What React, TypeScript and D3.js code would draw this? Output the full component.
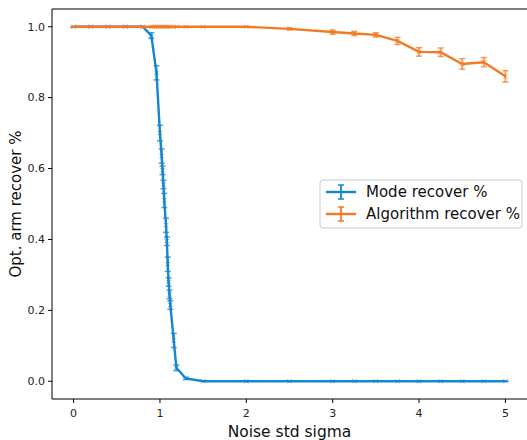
import React from "react";
import * as d3 from "d3";

const W = 527;
const H = 440;

const modeX = [0, 0.2, 0.4, 0.6, 0.8, 0.9, 0.96, 1.0, 1.02, 1.03, 1.04, 1.05, 1.07, 1.08, 1.09, 1.1, 1.11, 1.12, 1.16, 1.19, 1.3, 1.5, 2, 2.5, 3, 3.25, 3.5, 3.75, 4, 4.25, 4.5, 4.75, 5];
const modeY = [1, 1, 1, 1, 1, 0.975, 0.87, 0.7, 0.635, 0.595, 0.555, 0.51, 0.44, 0.395, 0.33, 0.28, 0.245, 0.215, 0.115, 0.038, 0.008, 0, 0, 0, 0, 0, 0, 0, 0, 0, 0, 0, 0];
const modeErr = [0, 0, 0, 0, 0, 0.008, 0.02, 0.022, 0.02, 0.012, 0.012, 0.02, 0.02, 0.012, 0.02, 0.012, 0.012, 0.012, 0.02, 0.008, 0.003, 0, 0, 0, 0, 0, 0, 0, 0, 0, 0, 0, 0];

const algoX = [0, 0.2, 0.4, 0.6, 0.8, 0.9, 0.92, 0.94, 0.96, 0.98, 1.0, 1.02, 1.04, 1.06, 1.08, 1.1, 1.12, 1.15, 1.2, 1.3, 1.5, 2, 2.5, 3, 3.25, 3.5, 3.75, 4, 4.25, 4.5, 4.75, 5];
const algoY = [1, 1, 1, 1, 1, 1, 1, 1, 1, 1, 1, 1, 1, 1, 1, 1, 1, 1, 1, 1, 1, 1, 0.994, 0.985, 0.981, 0.977, 0.96, 0.929, 0.928, 0.895, 0.9, 0.86];
const algoErr = [0, 0, 0, 0, 0, 0, 0, 0, 0, 0, 0, 0, 0, 0, 0, 0, 0, 0, 0, 0, 0, 0, 0.003, 0.006, 0.006, 0.006, 0.01, 0.012, 0.012, 0.015, 0.013, 0.016];

const xTicks = [0, 1, 2, 3, 4, 5];
const yTicks = [0, 0.2, 0.4, 0.6, 0.8, 1.0];

const seriesNames = ["Mode recover %", "Algorithm recover %"];
const BLUE = "#1586d0";
const ORANGE = "#f37a24";

const M = { left: 52, right: 527, top: 9, bottom: 399 };

export default function App() {
  const x = d3.scaleLinear().domain([-0.25, 5.25]).range([M.left, M.right]);
  const y = d3.scaleLinear().domain([-0.05, 1.05]).range([M.bottom, M.top]);
  const line = d3.line<[number, number]>().x((d) => x(d[0])).y((d) => y(d[1]));

  const series = [
    { xs: modeX, ys: modeY, es: modeErr, color: BLUE },
    { xs: algoX, ys: algoY, es: algoErr, color: ORANGE },
  ];

  const font = "DejaVu Sans, sans-serif";

  return (
    <svg width={W} height={H} style={{ position: "absolute", left: 0, top: 0, background: "#fff" }} fontFamily={font}>
      <rect x={0} y={0} width={W} height={H} fill="#fff" />
      <defs>
        <clipPath id="clip">
          <rect x={M.left} y={M.top} width={M.right - M.left} height={M.bottom - M.top} />
        </clipPath>
      </defs>
      {series.map((s, si) => {
        const pts: [number, number][] = s.xs.map((v, i) => [v, s.ys[i]]);
        return (
          <g key={si} clipPath="url(#clip)">
            <path d={line(pts) || ""} fill="none" stroke={s.color} strokeWidth={2.4} />
            {pts.map((p, i) => {
              const e = s.es[i];
              const cx = x(p[0]);
              const y1 = y(p[1] + e);
              const y2 = y(p[1] - e);
              return (
                <g key={i}>
                  <line x1={cx} x2={cx} y1={y1} y2={y2} stroke={s.color} strokeWidth={1.8} strokeOpacity={0.75} />
                  <line x1={cx - 3} x2={cx + 3} y1={y1} y2={y1} stroke={s.color} strokeWidth={1.5} strokeOpacity={0.75} />
                  <line x1={cx - 3} x2={cx + 3} y1={y2} y2={y2} stroke={s.color} strokeWidth={1.5} strokeOpacity={0.75} />
                  <path
                    d={`M${cx - 2},${y(p[1]) - 2}L${cx + 2},${y(p[1]) + 2}M${cx - 2},${y(p[1]) + 2}L${cx + 2},${y(p[1]) - 2}`}
                    stroke={s.color}
                    strokeWidth={1}
                    strokeOpacity={0.8}
                  />
                </g>
              );
            })}
          </g>
        );
      })}
      {/* spines */}
      <line x1={M.left} x2={M.left} y1={M.top} y2={M.bottom} stroke="#000" strokeWidth={1} />
      <line x1={M.left} x2={M.right} y1={M.bottom} y2={M.bottom} stroke="#000" strokeWidth={1} />
      <line x1={M.left} x2={M.right} y1={M.top} y2={M.top} stroke="#000" strokeWidth={1} />
      {/* x ticks */}
      {xTicks.map((t) => (
        <g key={t}>
          <line x1={x(t)} x2={x(t)} y1={M.bottom} y2={M.bottom + 4} stroke="#000" />
          <text x={x(t)} y={M.bottom + 18} textAnchor="middle" fontSize={11} fill="#222">
            {d3.format("d")(t)}
          </text>
        </g>
      ))}
      {yTicks.map((t) => (
        <g key={t}>
          <line x1={M.left - 4} x2={M.left} y1={y(t)} y2={y(t)} stroke="#000" />
          <text x={M.left - 7} y={y(t)} dy="0.35em" textAnchor="end" fontSize={11} fill="#222">
            {d3.format(".1f")(t)}
          </text>
        </g>
      ))}
      <text x={(M.left + M.right) / 2} y={437} textAnchor="middle" fontSize={15.5} fill="#111">
        Noise std sigma
      </text>
      <text
        transform={`translate(21,${(M.top + M.bottom) / 2}) rotate(-90)`}
        textAnchor="middle"
        fontSize={15}
        fill="#111"
      >
        Opt. arm recover %
      </text>
      {/* legend */}
      <rect x={320} y={180} width={202} height={48} rx={3} fill="#fff" fillOpacity={0.8} stroke="#ccc" />
      {series.map((s, i) => {
        const ly = 192 + i * 22;
        return (
          <g key={i}>
            <line x1={326} x2={356} y1={ly} y2={ly} stroke={s.color} strokeWidth={2.4} />
            <line x1={341} x2={341} y1={ly - 7} y2={ly + 7} stroke={s.color} strokeWidth={1.8} />
            <line x1={338} x2={344} y1={ly - 7} y2={ly - 7} stroke={s.color} strokeWidth={1.5} />
            <line x1={338} x2={344} y1={ly + 7} y2={ly + 7} stroke={s.color} strokeWidth={1.5} />
            <text x={366} y={ly} dy="0.35em" fontSize={15} fill="#111">
              {seriesNames[i]}
            </text>
          </g>
        );
      })}
    </svg>
  );
}
